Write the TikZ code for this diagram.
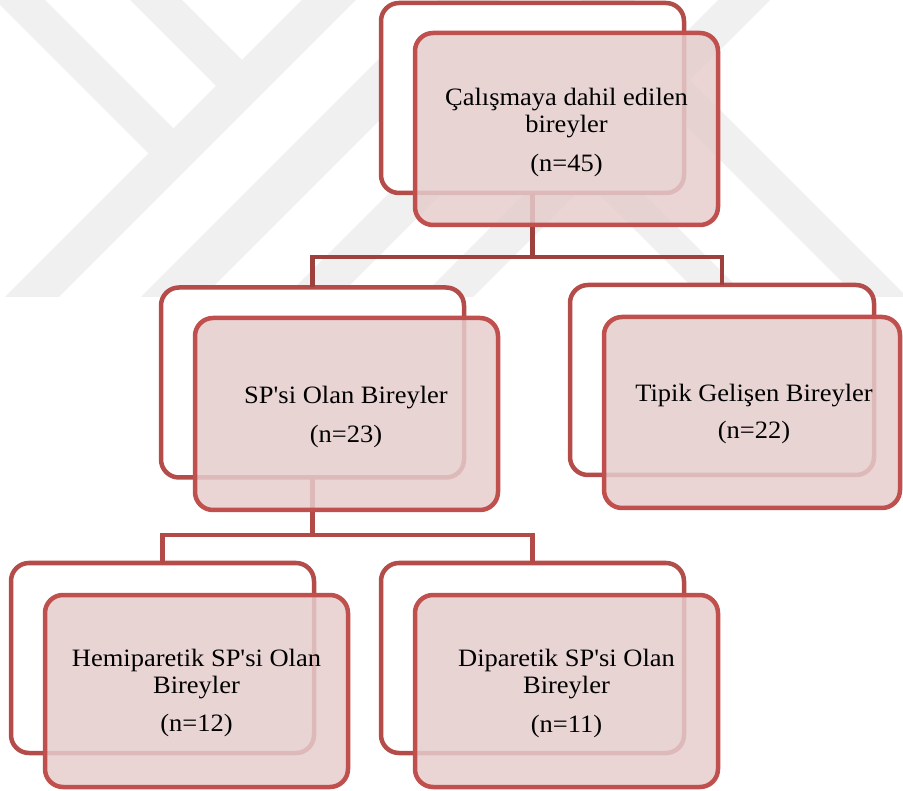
\documentclass[tikz,border=0pt]{standalone}
\usepackage{fontspec}
\setmainfont{Liberation Serif}[Ligatures=TeXOff, FakeStretch=1.06]
\definecolor{wm}{HTML}{F0F0F0}
\definecolor{backline}{HTML}{B44C49}
\definecolor{frontline}{HTML}{C0504D}
\definecolor{frontfill}{HTML}{E6CDCD}
\definecolor{conntop}{HTML}{9E403E}
\definecolor{connlow}{HTML}{B24A47}
\tikzset{
  backbox/.style={draw=backline, fill=white, line width=4.5pt, rounded corners=18pt,
    minimum width=303pt, minimum height=190pt, inner sep=0pt, outer sep=0pt},
  frontbox/.style={draw=frontline, fill=frontfill, fill opacity=0.85, line width=4.5pt,
    rounded corners=18pt, minimum width=303pt, minimum height=192pt, inner sep=0pt, outer sep=0pt},
  lbl/.style={anchor=north, align=center, inner sep=0pt, text=black,
    font=\fontsize{25}{27}\selectfont},
  connA/.style={draw=conntop, line width=4.2pt},
  connB/.style={draw=connlow, line width=4.2pt},
  band/.style={fill=wm, draw=none}
}
\begin{document}
\begin{tikzpicture}[x=1pt,y=-1pt]
\useasboundingbox (0,0) rectangle (903,791);
% watermark
\begin{scope}
\clip (0,0) rectangle (903,297);
\fill[band] (302,0) -- (356,0) -- (59,297) -- (5,297) -- cycle;
\fill[band] (438,0) -- (500,0) -- (203,297) -- (141,297) -- cycle;
\fill[band] (582,0) -- (635,0) -- (338,297) -- (285,297) -- cycle;
\fill[band] (718,0) -- (770,0) -- (473,297) -- (421,297) -- cycle;
\fill[band] (-5,0) -- (45,0) -- (182.5,137.5) -- (157.5,162.5) -- cycle;
\fill[band] (130,0) -- (182,0) -- (251,69) -- (225,95) -- cycle;
\fill[band] (574.5,169.5) -- (597,147) -- (747,297) -- (702,297) -- cycle;
\fill[band] (652,92) -- (677,67) -- (907,297) -- (857,297) -- cycle;
\end{scope}
% back frames
\node[backbox] (tb) at (532.5,98) {};
\node[backbox] (spb) at (312.5,382.5) {};
\node[backbox, minimum width=304pt] (tgb) at (722,380) {};
\node[backbox] (hb) at (162.5,658) {};
\node[backbox] (db) at (532.5,658) {};
% connectors
\coordinate (j1) at (532.5,257);
\coordinate (j2) at (312.5,535);
\draw[connA] (tb.south) -- (j1) -| (spb.north);
\draw[connA] (j1) -| (tgb.north);
\draw[connB] (spb.south) -- (j2) -| (hb.north);
\draw[connB] (j2) -| (db.north);
% front boxes
\node[frontbox] (tf) at (566.5,129) {};
\node[frontbox] (spf) at (346.5,414) {};
\node[frontbox, minimum width=296pt, minimum height=191pt] (tgf) at (752,412.5) {};
\node[frontbox] (hf) at (196.5,691) {};
\node[frontbox] (df) at (566.5,691) {};
% labels
\node[lbl] (tt) at (566.5,87.9) {Çalışmaya dahil edilen\\bireyler\\[12pt](n=45)};
\node[lbl] (spt) at (346,385.9) {SP'si Olan Bireyler\\[12pt](n=23)};
\node[lbl] (tgt) at (754,383.9) {Tipik Gelişen Bireyler\\[10pt](n=22)};
\node[lbl] (ht) at (196.5,648.9) {Hemiparetik SP'si Olan\\Bireyler\\[11pt](n=12)};
\node[lbl] (dt) at (566.5,648.9) {Diparetik SP'si Olan\\Bireyler\\[12pt](n=11)};
\end{tikzpicture}
\end{document}
